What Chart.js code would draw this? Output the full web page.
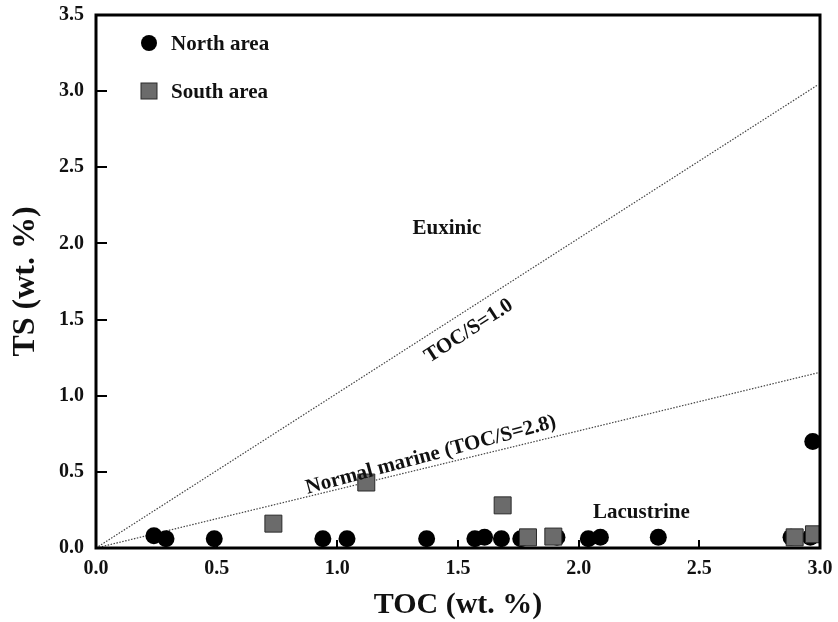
<!DOCTYPE html>
<html>
<head>
<meta charset="utf-8">
<script src="https://cdn.jsdelivr.net/npm/chart.js@4/dist/chart.umd.min.js"></script>
<style>
  html, body { margin: 0; padding: 0; background: #fff; }
  #wrap { width: 838px; height: 622px; }
</style>
</head>
<body>
<div id="wrap"><canvas id="c" width="838" height="622"></canvas></div>
<script>
// ---- data ----
const northTOC = [0.24, 0.29, 0.49, 0.94, 1.04, 1.37, 1.57, 1.61, 1.68, 1.76, 1.91, 2.04, 2.09, 2.33, 2.88, 2.96, 2.97];
const northTS  = [0.08, 0.06, 0.06, 0.06, 0.06, 0.06, 0.06, 0.07, 0.06, 0.06, 0.07, 0.06, 0.07, 0.07, 0.07, 0.07, 0.70];
const southTOC = [0.735, 1.12, 1.685, 1.79, 1.895, 2.895, 2.975];
const southTS  = [0.16, 0.43, 0.28, 0.07, 0.075, 0.07, 0.09];
const line1TOC = [0, 2.99];
const line1TS  = [0, 3.04];
const line2TOC = [0, 2.99];
const line2TS  = [0, 1.15];
const xTicks = [0, 0.5, 1.0, 1.5, 2.0, 2.5, 3.0];
const yTicks = [0, 0.5, 1.0, 1.5, 2.0, 2.5, 3.0, 3.5];
const seriesNames = ['North area', 'South area'];
const annoTexts = ['Euxinic', 'TOC/S=1.0', 'Normal marine (TOC/S=2.8)', 'Lacustrine'];
const annoTOC = [1.454, 1.545, 1.388, 2.26];
const annoTS  = [2.10, 1.425, 0.61, 0.235];
const annoAngle = [0, -33, -15, 0];

const zip = (xs, ys) => xs.map((x, i) => ({x: x, y: ys[i]}));
const SERIF = '"Liberation Serif", "Times New Roman", serif';

const framePlugin = {
  id: 'frame',
  beforeDraw(chart) {
    const ctx = chart.ctx;
    ctx.save();
    ctx.fillStyle = '#fff';
    ctx.fillRect(0, 0, chart.width, chart.height);
    ctx.restore();
  },
  afterDatasetsDraw(chart) {
    const {ctx, chartArea: a, scales} = chart;
    const xs = scales.x, ys = scales.y;
    ctx.save();
    // frame
    ctx.strokeStyle = '#000';
    ctx.lineWidth = 3;
    ctx.strokeRect(a.left, a.top, a.right - a.left, a.bottom - a.top);
    // inward ticks
    ctx.lineWidth = 2;
    ctx.beginPath();
    yTicks.forEach(v => {
      const p = Math.round(ys.getPixelForValue(v));
      ctx.moveTo(a.left, p); ctx.lineTo(a.left + 11, p);
    });
    xTicks.forEach(v => {
      const p = Math.round(xs.getPixelForValue(v));
      ctx.moveTo(p, a.bottom); ctx.lineTo(p, a.bottom - 8);
    });
    ctx.stroke();
    // annotations
    ctx.fillStyle = '#111';
    ctx.font = 'bold 21px ' + SERIF;
    ctx.textAlign = 'center';
    ctx.textBaseline = 'middle';
    annoTexts.forEach((t, i) => {
      ctx.save();
      ctx.translate(xs.getPixelForValue(annoTOC[i]), ys.getPixelForValue(annoTS[i]));
      ctx.rotate(annoAngle[i] * Math.PI / 180);
      ctx.fillText(t, 0, 0);
      ctx.restore();
    });
    // legend
    const dsN = chart.data.datasets[1], dsS = chart.data.datasets[0];
    const lx = a.left + 53;
    const ly1 = a.top + 28, ly2 = a.top + 76;
    ctx.beginPath();
    ctx.arc(lx, ly1, 8, 0, Math.PI * 2);
    ctx.fillStyle = dsN.backgroundColor; ctx.fill();
    ctx.fillStyle = dsS.backgroundColor;
    ctx.strokeStyle = dsS.borderColor; ctx.lineWidth = 1;
    ctx.fillRect(lx - 8, ly2 - 8, 16, 16);
    ctx.strokeRect(lx - 8, ly2 - 8, 16, 16);
    ctx.fillStyle = '#111';
    ctx.textAlign = 'left';
    ctx.font = 'bold 21px ' + SERIF;
    ctx.fillText(seriesNames[0], lx + 22, ly1 + 2);
    ctx.fillText(seriesNames[1], lx + 22, ly2 + 2);
    ctx.restore();
  }
};

new Chart(document.getElementById('c'), {
  type: 'scatter',
  data: {
    datasets: [
      { label: seriesNames[1], data: zip(southTOC, southTS), pointStyle: 'rect',
        pointRadius: 12, pointHoverRadius: 12, backgroundColor: '#6b6b6b', borderColor: '#2a2a2a', borderWidth: 1, order: 0 },
      { label: seriesNames[0], data: zip(northTOC, northTS), pointStyle: 'circle',
        pointRadius: 8.5, pointHoverRadius: 8.5, backgroundColor: '#000', borderColor: '#000', borderWidth: 0, order: 1 },
      { type: 'line', label: 'TOC/S=1.0', data: zip(line1TOC, line1TS), borderColor: '#444', borderWidth: 1.2,
        borderDash: [1.5, 1.5], pointRadius: 0, fill: false, order: 2 },
      { type: 'line', label: 'TOC/S=2.8', data: zip(line2TOC, line2TS), borderColor: '#444', borderWidth: 1.2,
        borderDash: [1.5, 1.5], pointRadius: 0, fill: false, order: 2 }
    ]
  },
  options: {
    responsive: false,
    animation: false,
    events: [],
    layout: { padding: { top: 15, right: 18, left: 0, bottom: 0 } },
    plugins: { legend: { display: false }, tooltip: { enabled: false } },
    scales: {
      x: {
        type: 'linear', min: 0, max: 3.0,
        afterBuildTicks: s => { s.ticks = xTicks.map(v => ({value: v})); },
        afterFit: s => { s.height = 74; s.paddingLeft = 0; s.paddingRight = 0; },
        grid: { display: false, drawTicks: false },
        border: { display: false },
        ticks: { padding: 9, color: '#111', font: { family: SERIF, size: 20, weight: 'bold' },
                 callback: v => Number(v).toFixed(1) },
        title: { display: true, text: 'TOC (wt. %)', color: '#111',
                 font: { family: SERIF, size: 30, weight: 'bold', lineHeight: 1 }, padding: { top: 0, bottom: 2 } }
      },
      y: {
        type: 'linear', min: 0, max: 3.5,
        afterBuildTicks: s => { s.ticks = yTicks.map(v => ({value: v})); },
        afterFit: s => { s.width = 96; s.paddingTop = 0; s.paddingBottom = 0; },
        grid: { display: false, drawTicks: false },
        border: { display: false },
        ticks: { padding: 12, color: '#111', font: { family: SERIF, size: 20, weight: 'bold' },
                 callback: v => Number(v).toFixed(1) },
        title: { display: true, text: 'TS (wt. %)', color: '#111',
                 font: { family: SERIF, size: 32, weight: 'bold', lineHeight: 1 }, padding: { top: 10, bottom: 0 } }
      }
    }
  },
  plugins: [framePlugin]
});
</script>
</body>
</html>
